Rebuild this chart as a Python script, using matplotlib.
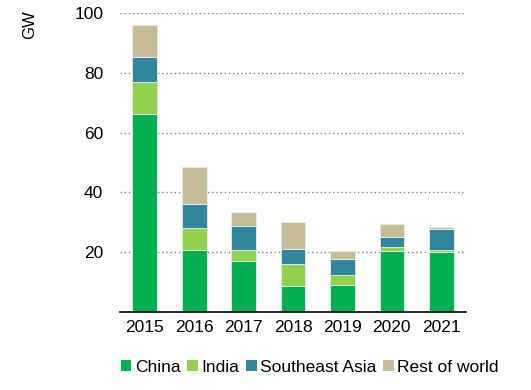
import numpy as np
import matplotlib
matplotlib.use("Agg")
import matplotlib.pyplot as plt
from matplotlib.patches import Patch

plt.rcParams['font.family'] = ['Liberation Sans', 'DejaVu Sans']

years = ['2015', '2016', '2017', '2018', '2019', '2020', '2021']
china = [66.2, 20.9, 16.9, 8.6, 9.1, 20.4, 20.2]
india = [10.6, 7.2, 3.9, 7.4, 3.2, 1.4, 0.6]
southeast_asia = [8.6, 8.0, 7.9, 5.2, 5.5, 3.3, 7.0]
rest_of_world = [10.7, 12.3, 4.9, 8.9, 2.6, 4.3, 0.6]

series = [
    ('China', china, '#00af50'),
    ('India', india, '#92d050'),
    ('Southeast Asia', southeast_asia, '#31859c'),
    ('Rest of world', rest_of_world, '#c4bd97'),
]

fig = plt.figure(figsize=(5.31, 3.9), dpi=100)
ax = fig.add_axes([120 / 531, 0.2, 346 / 531, 1 - 0.2 - 13 / 390])

x = np.arange(len(years))
bottom = np.zeros(len(years))
for name, vals, color in series:
    ax.bar(x, vals, 0.5, bottom=bottom, color=color, edgecolor='#e4efe4',
           linewidth=0.6, zorder=3)
    bottom += np.array(vals)

ax.set_xlim(-0.5, 6.5)
ax.set_ylim(0, 100)
ax.set_yticks([20, 40, 60, 80, 100])
ax.set_xticks(x)
ax.set_xticklabels(years)
ax.yaxis.grid(True, linestyle=(0, (1, 2)), color='#808080', linewidth=1.0, zorder=0)
ax.tick_params(axis='both', length=0, labelsize=12.5)
ax.tick_params(axis='y', pad=12)
ax.tick_params(axis='x', pad=6)
for s in ['left', 'right', 'top']:
    ax.spines[s].set_visible(False)
ax.spines['bottom'].set_linewidth(1.2)
ax.spines['bottom'].set_zorder(4)

fig.text(30 / 531, 1 - 25 / 390, 'GW', rotation=90, fontsize=12,
         ha='center', va='center')

handles = [Patch(facecolor=c, label=n) for n, _, c in series]
fig.legend(handles=handles, loc='center left', bbox_to_anchor=(121 / 531, 1 - 367 / 390),
           ncol=4, frameon=False, fontsize=12.5, handlelength=0.6, handleheight=0.6,
           handletextpad=0.2, columnspacing=0.4, borderaxespad=0, borderpad=0)

fig.savefig('out.png', dpi=100)
